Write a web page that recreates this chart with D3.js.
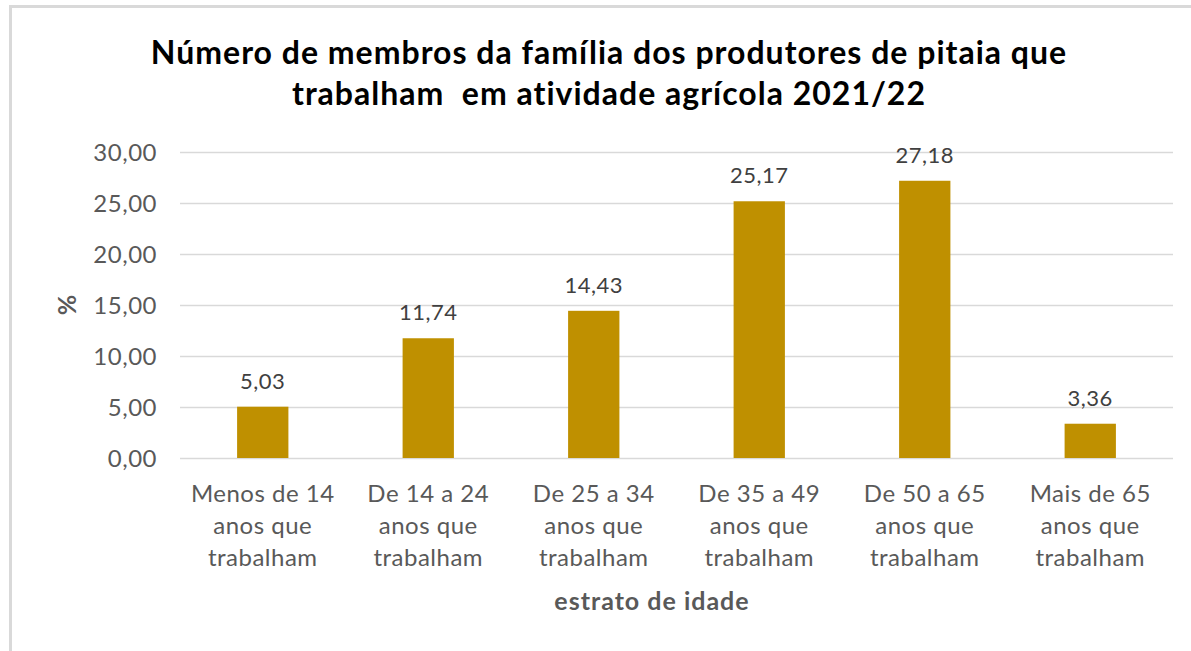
<!doctype html>
<html lang="pt">

<head>
  <meta charset="utf-8">
  <style>
    body { margin: 0; background: #fff; }
    text { font-family: Lato, "Open Sans", sans-serif; }
  </style>
</head>

<body>
  <script src="https://d3js.org/d3.v7.min.js"></script>
  <div id="chart"></div>

  <script>
    // data
    var categories = [
      ["Menos de 14", "anos que", "trabalham"],
      ["De 14 a 24", "anos que", "trabalham"],
      ["De 25 a 34", "anos que", "trabalham"],
      ["De 35 a 49", "anos que", "trabalham"],
      ["De 50 a 65", "anos que", "trabalham"],
      ["Mais de 65", "anos que", "trabalham"]
    ];
    var values = [5.03, 11.74, 14.43, 25.17, 27.18, 3.36];
    var yTicks = [0, 5, 10, 15, 20, 25, 30];
    var titleLines = [
      "Número de membros da família dos produtores de pitaia que",
      "trabalham  em atividade agrícola 2021/22"
    ];

    var width = 1191, height = 651;
    var plotLeft = 180, plotRight = 1173, plotTop = 152, plotBottom = 458;

    var fmt = function (v) { return v.toFixed(2).replace(".", ","); };

    var svg = d3.select("#chart")
      .append("svg")
      .attr("width", width)
      .attr("height", height);

    // frame of the chart area
    svg.append("rect")
      .attr("x", 10.5).attr("y", 6.5)
      .attr("width", 1200).attr("height", 700)
      .attr("fill", "none")
      .attr("stroke", "#d9d9d9")
      .attr("stroke-width", 3);

    var x = d3.scaleBand()
      .domain(d3.range(categories.length))
      .range([plotLeft, plotRight])
      .paddingInner(0.69)
      .paddingOuter(0.345);

    var y = d3.scaleLinear()
      .domain([0, 30])
      .range([plotBottom, plotTop]);

    // gridlines + tick labels
    var yAxis = d3.axisLeft(y)
      .tickValues(yTicks)
      .tickSize(-(plotRight - plotLeft))
      .tickPadding(23)
      .tickFormat(fmt);

    var ga = svg.append("g")
      .attr("transform", "translate(" + plotLeft + ",0)")
      .call(yAxis);
    ga.select(".domain").remove();
    ga.selectAll(".tick line").attr("stroke", "#d9d9d9").attr("stroke-width", 1.5);
    ga.selectAll(".tick text")
      .attr("fill", "#595959")
      .style("font-size", "24px")
      .style("letter-spacing", "0.5px")
      .attr("dy", "0.35em");

    // bars
    svg.selectAll("rect.bar")
      .data(values)
      .enter()
      .append("rect")
      .attr("class", "bar")
      .attr("x", function (d, i) { return x(i); })
      .attr("y", function (d) { return y(d); })
      .attr("width", x.bandwidth())
      .attr("height", function (d) { return y(0) - y(d); })
      .attr("fill", "#bf9000");

    // value labels
    svg.selectAll("text.val")
      .data(values)
      .enter()
      .append("text")
      .attr("class", "val")
      .attr("x", function (d, i) { return x(i) + x.bandwidth() / 2; })
      .attr("y", function (d) { return y(d) - 18; })
      .attr("text-anchor", "middle")
      .attr("fill", "#404040")
      .style("font-size", "22px")
      .style("letter-spacing", "0.5px")
      .text(fmt);

    // category labels
    var cat = svg.selectAll("text.cat")
      .data(categories)
      .enter()
      .append("text")
      .attr("class", "cat")
      .attr("text-anchor", "middle")
      .attr("fill", "#595959")
      .style("font-size", "24px")
      .style("letter-spacing", "0.5px");
    cat.selectAll("tspan")
      .data(function (d, i) { return d.map(function (s) { return { s: s, i: i }; }); })
      .enter()
      .append("tspan")
      .attr("x", function (d) { return x(d.i) + x.bandwidth() / 2; })
      .attr("y", function (d, j) { return 502 + j * 32; })
      .text(function (d) { return d.s; });

    // title
    svg.append("text")
      .attr("text-anchor", "middle")
      .attr("fill", "#000")
      .style("font-size", "32px")
      .style("font-weight", "bold")
      .style("letter-spacing", "1px")
      .style("white-space", "pre")
      .selectAll("tspan")
      .data(titleLines)
      .enter()
      .append("tspan")
      .attr("x", 609)
      .attr("y", function (d, i) { return 64 + i * 41; })
      .text(function (d) { return d; });

    // axis titles
    svg.append("text")
      .attr("x", 652).attr("y", 610)
      .attr("text-anchor", "middle")
      .attr("fill", "#595959")
      .style("font-size", "25px")
      .style("font-weight", "bold")
      .style("letter-spacing", "1px")
      .text("estrato de idade");

    svg.append("text")
      .attr("transform", "translate(76,305) rotate(-90)")
      .attr("text-anchor", "middle")
      .attr("fill", "#595959")
      .style("font-size", "25px")
      .style("font-weight", "bold")
      .text("%");
  </script>
</body>

</html>
